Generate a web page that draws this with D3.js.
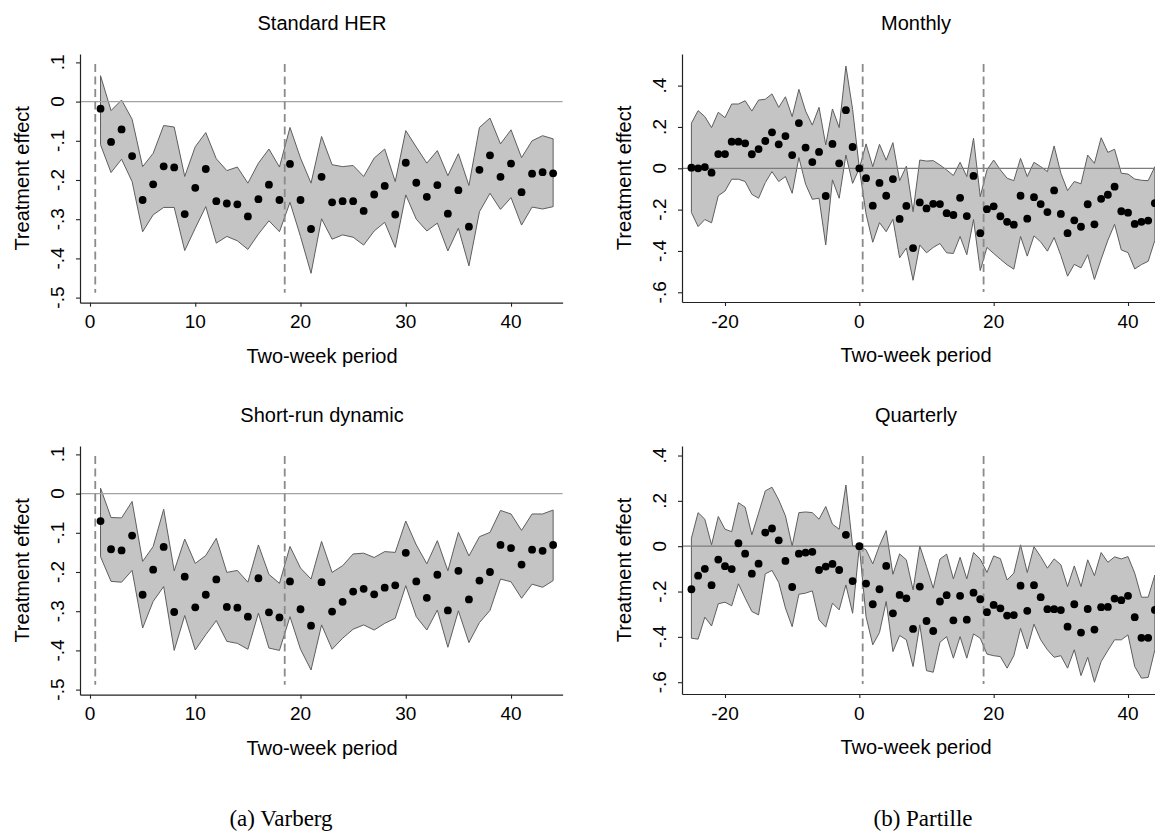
<!DOCTYPE html>
<html><head><meta charset="utf-8">
<script src="https://cdn.jsdelivr.net/npm/d3@7"></script>
<style>
html,body{margin:0;padding:0;background:#fff;}
svg{display:block;}
text{font-family:"Liberation Sans",Arial,Helvetica,sans-serif;fill:#000;}
.cap{font-family:"Liberation Serif","DejaVu Serif",serif;}
</style></head>
<body>
<svg id="chart" width="1155" height="838"></svg>
<script>
// ---------------- DATA ----------------
const periodsVarberg = d3.range(1, 45);          // 1..44
const periodsPartille = d3.range(-25, 45);       // -25..44

const herEst = [-0.018,-0.103,-0.071,-0.139,-0.251,-0.211,-0.165,-0.168,-0.287,-0.220,-0.172,-0.254,-0.260,-0.262,-0.293,-0.249,-0.212,-0.251,-0.159,-0.251,-0.325,-0.192,-0.257,-0.254,-0.254,-0.279,-0.237,-0.215,-0.288,-0.156,-0.207,-0.243,-0.213,-0.286,-0.226,-0.319,-0.174,-0.137,-0.192,-0.158,-0.231,-0.184,-0.180,-0.183];
const herHi = [0.066,-0.023,0.004,-0.045,-0.166,-0.132,-0.061,-0.065,-0.191,-0.115,-0.079,-0.146,-0.176,-0.167,-0.208,-0.157,-0.121,-0.167,-0.066,-0.144,-0.208,-0.089,-0.161,-0.166,-0.163,-0.191,-0.144,-0.121,-0.204,-0.074,-0.116,-0.157,-0.125,-0.189,-0.133,-0.214,-0.066,-0.042,-0.108,-0.072,-0.143,-0.100,-0.087,-0.095];
const herLo = [-0.110,-0.181,-0.147,-0.204,-0.332,-0.289,-0.270,-0.270,-0.380,-0.323,-0.268,-0.361,-0.344,-0.355,-0.377,-0.338,-0.304,-0.332,-0.257,-0.344,-0.438,-0.299,-0.351,-0.340,-0.346,-0.366,-0.330,-0.308,-0.372,-0.238,-0.300,-0.330,-0.310,-0.381,-0.323,-0.419,-0.281,-0.234,-0.275,-0.245,-0.315,-0.269,-0.274,-0.268];

const srdEst = [-0.070,-0.142,-0.145,-0.107,-0.258,-0.194,-0.136,-0.302,-0.212,-0.290,-0.258,-0.219,-0.289,-0.291,-0.314,-0.216,-0.303,-0.316,-0.224,-0.295,-0.337,-0.226,-0.301,-0.276,-0.250,-0.243,-0.257,-0.240,-0.234,-0.151,-0.224,-0.266,-0.207,-0.298,-0.197,-0.270,-0.222,-0.200,-0.131,-0.139,-0.181,-0.143,-0.146,-0.131];
const srdHi = [0.014,-0.061,-0.062,-0.020,-0.173,-0.135,-0.040,-0.197,-0.116,-0.178,-0.158,-0.114,-0.201,-0.196,-0.226,-0.131,-0.206,-0.229,-0.135,-0.190,-0.218,-0.122,-0.201,-0.184,-0.154,-0.152,-0.163,-0.148,-0.150,-0.070,-0.131,-0.179,-0.120,-0.197,-0.099,-0.159,-0.110,-0.099,-0.043,-0.052,-0.094,-0.052,-0.052,-0.042];
const srdLo = [-0.161,-0.224,-0.226,-0.196,-0.343,-0.275,-0.237,-0.400,-0.311,-0.399,-0.360,-0.324,-0.377,-0.382,-0.397,-0.305,-0.394,-0.400,-0.314,-0.397,-0.450,-0.335,-0.397,-0.369,-0.346,-0.335,-0.348,-0.331,-0.318,-0.235,-0.314,-0.348,-0.297,-0.392,-0.299,-0.380,-0.329,-0.298,-0.218,-0.225,-0.267,-0.231,-0.239,-0.222];

const monEst = [0.003,0.000,0.006,-0.021,0.069,0.069,0.129,0.129,0.121,0.068,0.093,0.132,0.174,0.116,0.156,0.064,0.219,0.100,0.030,0.079,-0.134,0.118,0.024,0.281,0.103,0,-0.048,-0.181,-0.071,-0.133,-0.052,-0.245,-0.182,-0.386,-0.165,-0.194,-0.172,-0.173,-0.217,-0.226,-0.143,-0.231,-0.037,-0.314,-0.198,-0.184,-0.232,-0.259,-0.273,-0.133,-0.244,-0.140,-0.173,-0.212,-0.107,-0.221,-0.314,-0.252,-0.283,-0.174,-0.271,-0.148,-0.128,-0.089,-0.208,-0.215,-0.269,-0.259,-0.253,-0.169];
const monHi = [0.218,0.279,0.250,0.197,0.271,0.245,0.311,0.311,0.327,0.277,0.330,0.334,0.360,0.295,0.346,0.250,0.382,0.277,0.209,0.295,0.113,0.287,0.197,0.495,0.285,0,0.118,0.008,0.116,0.039,0.124,-0.060,0.010,-0.210,0.040,0.035,0.037,0.016,-0.008,-0.035,0.029,-0.040,0.145,-0.137,-0.008,0.040,-0.008,-0.048,-0.060,0.048,-0.040,0.029,0.008,-0.016,0.108,-0.024,-0.108,-0.064,-0.075,0.064,0.024,0.148,0.077,0.092,-0.024,-0.028,-0.052,-0.058,-0.060,0.008];
const monLo = [-0.214,-0.282,-0.248,-0.264,-0.133,-0.110,-0.053,-0.053,-0.064,-0.126,-0.145,-0.069,-0.016,-0.064,-0.040,-0.121,0.052,-0.077,-0.150,-0.145,-0.371,-0.056,-0.145,0.064,-0.073,0,-0.221,-0.358,-0.263,-0.307,-0.247,-0.433,-0.386,-0.542,-0.371,-0.409,-0.383,-0.364,-0.409,-0.412,-0.330,-0.418,-0.248,-0.495,-0.383,-0.412,-0.440,-0.467,-0.488,-0.330,-0.425,-0.327,-0.356,-0.401,-0.335,-0.422,-0.522,-0.465,-0.482,-0.418,-0.538,-0.440,-0.348,-0.271,-0.395,-0.408,-0.487,-0.466,-0.450,-0.348];

const qtrEst = [-0.190,-0.130,-0.100,-0.172,-0.059,-0.088,-0.101,0.013,-0.033,-0.121,-0.077,0.060,0.078,0.026,-0.065,-0.180,-0.033,-0.028,-0.025,-0.105,-0.090,-0.078,-0.105,0.050,-0.154,0,-0.165,-0.256,-0.190,-0.087,-0.296,-0.215,-0.230,-0.365,-0.178,-0.330,-0.374,-0.244,-0.216,-0.327,-0.219,-0.324,-0.205,-0.234,-0.291,-0.259,-0.274,-0.306,-0.304,-0.174,-0.285,-0.172,-0.225,-0.278,-0.278,-0.282,-0.355,-0.256,-0.381,-0.277,-0.368,-0.269,-0.268,-0.231,-0.238,-0.219,-0.313,-0.404,-0.404,-0.281];
const qtrHi = [0.035,0.148,0.119,0.006,0.131,0.075,0.064,0.192,0.172,0.050,0.146,0.244,0.260,0.204,0.134,0.001,0.148,0.151,0.148,0.119,0.175,0.097,0.075,0.270,0.001,0,-0.016,-0.078,0.003,0.069,-0.124,-0.034,-0.060,-0.193,0.001,-0.090,-0.185,-0.057,-0.035,-0.144,-0.049,-0.144,-0.028,-0.057,-0.116,-0.043,-0.055,-0.149,-0.119,0.006,-0.116,-0.002,-0.046,-0.097,-0.056,-0.082,-0.178,-0.087,-0.178,-0.060,-0.130,-0.028,-0.071,-0.047,-0.056,-0.046,-0.119,-0.225,-0.225,-0.127];
const qtrLo = [-0.406,-0.410,-0.313,-0.352,-0.254,-0.247,-0.263,-0.166,-0.229,-0.288,-0.303,-0.122,-0.107,-0.160,-0.273,-0.355,-0.212,-0.207,-0.197,-0.325,-0.357,-0.251,-0.281,-0.171,-0.296,0,-0.311,-0.435,-0.381,-0.244,-0.465,-0.394,-0.413,-0.531,-0.347,-0.549,-0.556,-0.424,-0.399,-0.494,-0.399,-0.494,-0.387,-0.406,-0.476,-0.483,-0.487,-0.538,-0.483,-0.362,-0.453,-0.344,-0.413,-0.457,-0.490,-0.483,-0.538,-0.457,-0.571,-0.490,-0.600,-0.509,-0.460,-0.413,-0.413,-0.391,-0.531,-0.582,-0.579,-0.457];

const xTicksVarberg = [0, 10, 20, 30, 40];
const xTicksPartille = [-20, 0, 20, 40];
const yTicksVarberg = [0.1, 0, -0.1, -0.2, -0.3, -0.4, -0.5];
const yTickLabelsVarberg = [".1", "0", "-.1", "-.2", "-.3", "-.4", "-.5"];
const yTicksPartille = [0.4, 0.2, 0, -0.2, -0.4, -0.6];
const yTickLabelsPartille = [".4", ".2", "0", "-.2", "-.4", "-.6"];
const vLines = [0.5, 18.5];
const panelTitles = ["Standard HER", "Monthly", "Short-run dynamic", "Quarterly"];
const xTitle = "Two-week period";
const yTitle = "Treatment effect";
const captions = ["(a) Varberg", "(b) Partille"];

// ---------------- DRAW ----------------
const svg = d3.select("#chart");

const panels = [
  {title: panelTitles[0], periods: periodsVarberg, est: herEst, hi: herHi, lo: herLo,
   xDom: [-0.95, 44.9], xRange: [80, 562.6], yDom: [-0.513, 0.1214], yRange: [302.7, 54],
   xTicks: xTicksVarberg, yTicks: yTicksVarberg, yLabels: yTickLabelsVarberg, zeroCol: "#a3a3a3", titleX: 322},
  {title: panelTitles[1], periods: periodsPartille, est: monEst, hi: monHi, lo: monLo,
   xDom: [-26.4, 45], xRange: [682, 1161.6], yDom: [-0.647, 0.553], yRange: [302, 54],
   xTicks: xTicksPartille, yTicks: yTicksPartille, yLabels: yTickLabelsPartille, zeroCol: "#7c7c7c", titleX: 916},
  {title: panelTitles[2], periods: periodsVarberg, est: srdEst, hi: srdHi, lo: srdLo,
   xDom: [-0.95, 44.9], xRange: [80, 562.6], yDom: [-0.513, 0.1214], yRange: [694.7, 446],
   xTicks: xTicksVarberg, yTicks: yTicksVarberg, yLabels: yTickLabelsVarberg, zeroCol: "#a3a3a3", titleX: 322},
  {title: panelTitles[3], periods: periodsPartille, est: qtrEst, hi: qtrHi, lo: qtrLo,
   xDom: [-26.4, 45], xRange: [682, 1161.6], yDom: [-0.652, 0.442], yRange: [694, 446],
   xTicks: xTicksPartille, yTicks: yTicksPartille, yLabels: yTickLabelsPartille, zeroCol: "#7c7c7c", titleX: 916}
];

panels.forEach(p => {
  const x = d3.scaleLinear().domain(p.xDom).range(p.xRange);
  const y = d3.scaleLinear().domain(p.yDom).range(p.yRange);
  const g = svg.append("g");
  const rows = p.periods.map((t, i) => ({t, e: p.est[i], hi: p.hi[i], lo: p.lo[i]}));
  const top = p.yRange[1], bot = p.yRange[0];

  // CI band
  const area = d3.area().x(d => x(d.t)).y0(d => y(d.lo)).y1(d => y(d.hi));
  g.append("path").datum(rows).attr("d", area)
    .attr("fill", "#c5c4c5").attr("stroke", "#5e5e5e").attr("stroke-width", 1)
    .attr("stroke-linejoin", "miter");

  // zero line
  g.append("line").attr("x1", p.xRange[0]).attr("x2", p.xRange[1])
    .attr("y1", y(0)).attr("y2", y(0))
    .attr("stroke", p.zeroCol).attr("stroke-width", 1.3);

  // dashed vertical lines
  g.selectAll(".vl").data(vLines).enter().append("line")
    .attr("x1", d => x(d)).attr("x2", d => x(d))
    .attr("y1", top + 10).attr("y2", bot - 10)
    .attr("stroke", "#8a8a8a").attr("stroke-width", 1.8)
    .attr("stroke-dasharray", "8,4.5");

  // points
  g.selectAll(".pt").data(rows).enter().append("circle")
    .attr("cx", d => x(d.t)).attr("cy", d => y(d.e)).attr("r", 3.9)
    .attr("fill", "#000");

  // y axis
  const ya = g.append("g").attr("transform", `translate(${p.xRange[0]},0)`)
    .call(d3.axisLeft(y).tickValues(p.yTicks).tickFormat("").tickSize(4).tickSizeOuter(0));
  ya.select(".domain").attr("stroke", "#222").attr("stroke-width", 1.2);
  ya.selectAll(".tick line").attr("stroke", "#222").attr("stroke-width", 1.1);
  g.selectAll(".ylab").data(p.yTicks).enter().append("text")
    .attr("transform", (d) => `translate(${p.xRange[0] - 16.5},${y(d)}) rotate(-90)`)
    .attr("text-anchor", "middle").attr("font-size", 19)
    .text((d, i) => p.yLabels[i]);

  // x axis
  const xa = g.append("g").attr("transform", `translate(0,${bot})`)
    .call(d3.axisBottom(x).tickValues(p.xTicks).tickFormat("").tickSize(4).tickSizeOuter(0));
  xa.select(".domain").attr("stroke", "#222").attr("stroke-width", 1.2);
  xa.selectAll(".tick line").attr("stroke", "#222").attr("stroke-width", 1.1);
  g.selectAll(".xlab").data(p.xTicks).enter().append("text")
    .attr("x", d => x(d)).attr("y", bot + 25.5)
    .attr("text-anchor", "middle").attr("font-size", 19)
    .text(d => d);

  // titles
  g.append("text").attr("x", p.titleX).attr("y", top - 24.5)
    .attr("text-anchor", "middle").attr("font-size", 20).text(p.title);
  g.append("text").attr("x", p.titleX).attr("y", bot + 60)
    .attr("text-anchor", "middle").attr("font-size", 20).text(xTitle);
  g.append("text")
    .attr("transform", `translate(${p.xRange[0] - 51},${(top + bot) / 2}) rotate(-90)`)
    .attr("text-anchor", "middle").attr("font-size", 20).text(yTitle);
});

// captions
svg.selectAll(".cap").data(captions).enter().append("text")
  .attr("class", "cap")
  .attr("x", (d, i) => i === 0 ? 281 : 923).attr("y", 826)
  .attr("text-anchor", "middle").attr("font-size", 23)
  .text(d => d);
</script>
</body></html>
